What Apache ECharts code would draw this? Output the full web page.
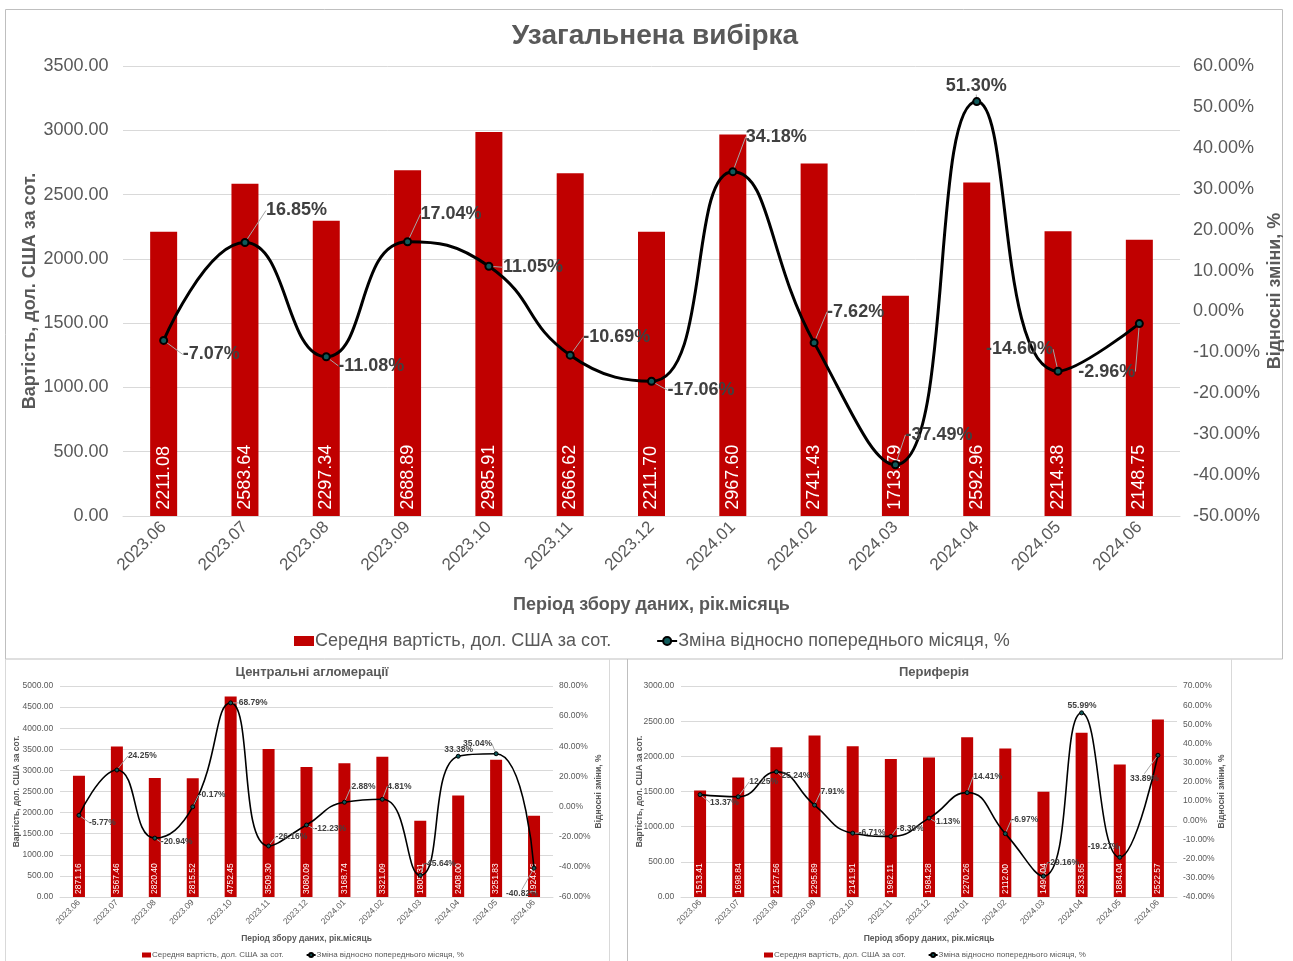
<!DOCTYPE html>
<html>
<head>
<meta charset="utf-8">
<script src="https://cdn.jsdelivr.net/npm/echarts@6/dist/echarts.min.js"></script>
<style>
html,body{margin:0;padding:0;background:#fff;}
#c{width:1293px;height:961px;}
</style>
</head>
<body>
<div id="c"></div>
<script>
// ---------- DATA ----------
const categories = ['2023.06','2023.07','2023.08','2023.09','2023.10','2023.11','2023.12','2024.01','2024.02','2024.03','2024.04','2024.05','2024.06'];
const mainCost = [2211.08, 2583.64, 2297.34, 2688.89, 2985.91, 2666.62, 2211.70, 2967.60, 2741.43, 1713.79, 2592.96, 2214.38, 2148.75];
const mainChange = [-7.07, 16.85, -11.08, 17.04, 11.05, -10.69, -17.06, 34.18, -7.62, -37.49, 51.30, -14.60, -2.96];
const centralCost = [2871.16, 3567.46, 2820.40, 2815.52, 4752.45, 3509.30, 3080.09, 3168.74, 3321.09, 1805.31, 2408.00, 3251.83, 1924.46];
const centralChange = [-5.77, 24.25, -20.94, -0.17, 68.79, -26.16, -12.23, 2.88, 4.81, -45.64, 33.38, 35.04, -40.82];
const periphCost = [1513.41, 1698.84, 2127.56, 2295.89, 2141.91, 1962.11, 1984.28, 2270.26, 2112.00, 1496.04, 2333.65, 1884.04, 2522.57];
const periphChange = [13.37, 12.25, 25.24, 7.91, -6.71, -8.39, 1.13, 14.41, -6.97, -29.16, 55.99, -19.27, 33.89];

const titleMain = 'Узагальнена вибірка';
const titleCentral = 'Центральні агломерації';
const titlePeriph = 'Периферія';
const nameBar = 'Середня вартість, дол. США за сот.';
const nameLine = 'Зміна відносно попереднього місяця, %';
const nameX = 'Період збору даних, рік.місяць';
const nameYLeft = 'Вартість, дол. США за сот.';
const nameYRight = 'Відносні зміни, %';

// ---------- STYLE / LAYOUT ----------
const FONT = '"Liberation Sans", Arial, sans-serif';
const GREY = '#595959';
const RED = '#C00000';

// label offsets (from point centre to label left edge / vertical centre)
const offMain = [[19,14],[21,-32],[12,9],[13,-28],[14,1],[13,-18],[16,9],[13,-35],[13,-31],[10,-30],[-31,-16],[-72,-22],[-61,48]];
const offCentral = [[10,7],[11,-14],[6,4],[6,-12],[8,0],[7,-9],[8,4],[7,-16],[5,-13],[4,-12],[-14,-7],[-33,-10],[-28,26]];
const offPeriph = [[10,8],[11,-15],[5,4],[6,-13],[6,0],[6,-8],[7,4],[6,-16],[6,-14],[4,-14],[-14,-7],[-32,-11],[-28,23]];

const cfgs = [
  { title: titleMain, cost: mainCost, change: mainChange, off: offMain,
    grid: {left:123, top:66, width:1057, height:450},
    yl: {min:0,max:3500,interval:500}, yr: {min:-50,max:60,interval:10},
    axisFs: 18, xFs: 17, nameFs: 18, lblFs: 18, titleFs: 28, titleX: 650, titleY: 17,
    barW: 27, lineW: 3, sym: 7, symBorder: 2, rMargin: 13,
    xNameGap: 80, yNameGapL: 84, yNameGapR: 86,
    legendY: 627, legendFs: 18, legendIconW: 20, legendIconH: 10, legendGap: 45, legendX: 289 },
  { title: titleCentral, cost: centralCost, change: centralChange, off: offCentral,
    grid: {left:60, top:686, width:493, height:211},
    yl: {min:0,max:5000,interval:500}, yr: {min:-60,max:80,interval:20},
    axisFs: 8.5, xFs: 8.5, nameFs: 8.5, lblFs: 8.5, titleFs: 13, titleX: 307, titleY: 661,
    barW: 12, lineW: 1.6, sym: 4, symBorder: 1, rMargin: 6,
    xNameGap: 37, yNameGapL: 39, yNameGapR: 41,
    legendY: 946, legendFs: 8, legendIconW: 9, legendIconH: 5, legendGap: 22, legendX: 137 },
  { title: titlePeriph, cost: periphCost, change: periphChange, off: offPeriph,
    grid: {left:681, top:686, width:496, height:211},
    yl: {min:0,max:3000,interval:500}, yr: {min:-40,max:70,interval:10},
    axisFs: 8.5, xFs: 8.5, nameFs: 8.5, lblFs: 8.5, titleFs: 13, titleX: 929, titleY: 661,
    barW: 12, lineW: 1.6, sym: 4, symBorder: 1, rMargin: 6,
    xNameGap: 37, yNameGapL: 37, yNameGapR: 40,
    legendY: 946, legendFs: 8, legendIconW: 9, legendIconH: 5, legendGap: 22, legendX: 759 }
];

const option = {
  animation: false,
  textStyle: { fontFamily: FONT },
  title: [], legend: [], grid: [], xAxis: [], yAxis: [], series: [],
  graphic: [
    { type:'rect', shape:{x:5.5,y:9.5,width:1277,height:649.5}, style:{fill:'none', stroke:'#bfbfbf', lineWidth:1}, silent:true, z:-1 },
    { type:'line', shape:{x1:5.5,y1:659,x2:5.5,y2:961}, style:{stroke:'#d9d9d9', lineWidth:1}, silent:true },
    { type:'line', shape:{x1:609.5,y1:659,x2:609.5,y2:961}, style:{stroke:'#d9d9d9', lineWidth:1}, silent:true },
    { type:'line', shape:{x1:627.5,y1:659,x2:627.5,y2:961}, style:{stroke:'#bfbfbf', lineWidth:1}, silent:true },
    { type:'line', shape:{x1:1231.5,y1:659,x2:1231.5,y2:961}, style:{stroke:'#d9d9d9', lineWidth:1}, silent:true }
  ]
};

cfgs.forEach((c, i) => {
  option.title.push({
    text: c.title, left: c.titleX, top: c.titleY, textAlign: 'center',
    textStyle: { fontSize: c.titleFs, fontWeight: 'bold', color: GREY, fontFamily: FONT }
  });
  option.grid.push(Object.assign({ containLabel: false, outerBoundsMode: 'none' }, c.grid));
  option.xAxis.push({
    type: 'category', gridIndex: i, data: categories,
    name: nameX, nameLocation: 'middle', nameGap: c.xNameGap, nameMoveOverlap: false,
    nameTextStyle: { fontSize: c.nameFs, fontWeight: 'bold', color: GREY },
    axisLine: { lineStyle: { color: '#d9d9d9' } },
    axisTick: { show: false },
    axisLabel: { rotate: 45, fontSize: c.xFs, color: GREY, margin: c.xFs * 0.5, interval: 0 }
  });
  option.yAxis.push({
    type: 'value', gridIndex: i, position: 'left',
    min: c.yl.min, max: c.yl.max, interval: c.yl.interval,
    name: nameYLeft, nameLocation: 'middle', nameGap: c.yNameGapL, nameMoveOverlap: false,
    nameTextStyle: { fontSize: c.nameFs, fontWeight: 'bold', color: GREY },
    axisLine: { show: false }, axisTick: { show: false },
    splitLine: { lineStyle: { color: '#d9d9d9' } },
    axisLabel: { fontSize: c.axisFs, color: GREY, formatter: v => v.toFixed(2), margin: c.axisFs * 0.8 }
  });
  option.yAxis.push({
    type: 'value', gridIndex: i, position: 'right',
    min: c.yr.min, max: c.yr.max, interval: c.yr.interval,
    name: nameYRight, nameLocation: 'middle', nameGap: c.yNameGapR, nameMoveOverlap: false,
    nameTextStyle: { fontSize: c.nameFs, fontWeight: 'bold', color: GREY },
    axisLine: { show: false }, axisTick: { show: false },
    splitLine: { show: false },
    axisLabel: { fontSize: c.axisFs, color: GREY, formatter: v => v.toFixed(2) + '%', margin: c.rMargin }
  });
  option.series.push({
    type: 'bar', name: nameBar, xAxisIndex: i, yAxisIndex: i * 2,
    data: c.cost, barWidth: c.barW,
    itemStyle: { color: RED },
    label: {
      show: true, position: 'insideBottom', rotate: 90, align: 'left', verticalAlign: 'middle',
      distance: c.lblFs * 0.35, color: '#fff', fontSize: c.lblFs, formatter: p => p.value.toFixed(2)
    },
    z: 2
  });
  const off = c.off;
  option.series.push({
    type: 'line', name: nameLine, xAxisIndex: i, yAxisIndex: i * 2 + 1,
    data: c.change, smooth: 0.5,
    lineStyle: { color: '#000', width: c.lineW },
    symbol: 'circle', symbolSize: c.sym,
    itemStyle: { color: '#0f5a5a', borderColor: '#000', borderWidth: c.symBorder },
    label: {
      show: true, position: 'right', fontSize: c.lblFs, fontWeight: 'bold', color: '#404040',
      formatter: p => p.value.toFixed(2) + '%'
    },
    labelLine: { show: true, lineStyle: { color: '#a6a6a6', width: 1 } },
    labelLayout: function (p) {
      const o = off[p.dataIndex];
      return {
        x: p.rect.x + p.rect.width / 2 + o[0],
        y: p.rect.y + p.rect.height / 2 + o[1],
        align: 'left', verticalAlign: 'middle'
      };
    },
    z: 5
  });
  option.legend.push({
    left: c.legendX, top: c.legendY, orient: 'horizontal',
    itemWidth: c.legendIconW, itemHeight: c.legendIconH, itemGap: c.legendGap,
    textStyle: { fontSize: c.legendFs, color: GREY, padding: [0,0,0,-4] },
    data: [{ name: nameBar, icon: 'rect' }, { name: nameLine }],
    selectedMode: false
  });
});

const chart = echarts.init(document.getElementById('c'), null, { renderer: 'canvas' });
chart.setOption(option);
</script>
</body>
</html>
